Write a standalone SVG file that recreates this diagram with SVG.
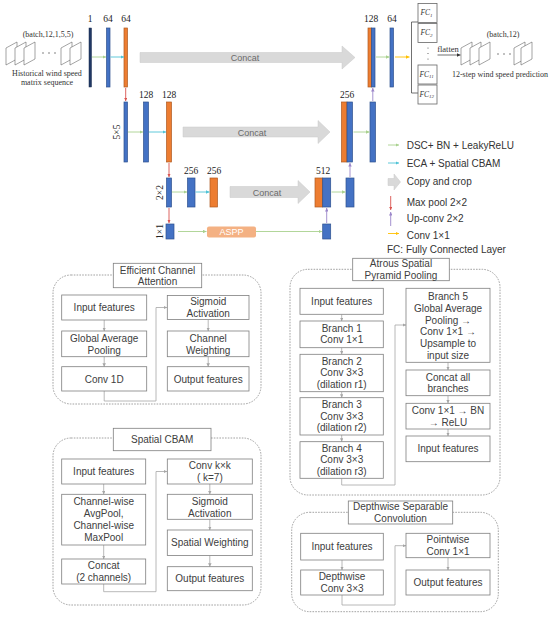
<svg xmlns="http://www.w3.org/2000/svg" width="550" height="621" viewBox="0 0 550 621">
<style>
.bg{fill:#ffffff}
.blue{fill:#4472C4;stroke:#2F528F;stroke-width:0.7}
.orange{fill:#ED7D31;stroke:#AE5A21;stroke-width:0.7}
.navy{fill:#203864;stroke:#1a2c50;stroke-width:0.5}
.num{font-family:"Liberation Serif",serif;font-size:9.5px;fill:#222;text-anchor:middle}
.ser{font-family:"Liberation Serif",serif;font-size:8px;fill:#333;text-anchor:middle}
.fc{font-family:"Liberation Serif",serif;font-style:italic;font-size:7.5px;fill:#333}
.frame{fill:#fff;stroke:#666;stroke-width:0.6}
.concat{fill:#D9D9D9;stroke:#c8c8c8;stroke-width:0.5}
.ctext{font-family:"Liberation Sans",Arial,sans-serif;font-size:9px;fill:#6a6a6a;text-anchor:middle}
.leg{font-family:"Liberation Sans",Arial,sans-serif;font-size:10px;fill:#333}
.g{stroke:#A9D18E;stroke-width:0.9;fill:none}
.c{stroke:#4FC3D6;stroke-width:0.9;fill:none}
.r{stroke:#D9534F;stroke-width:0.9;fill:none}
.p{stroke:#9B86C9;stroke-width:0.9;fill:none}
.y{stroke:#FFC000;stroke-width:0.9;fill:none}
.k{stroke:#333;stroke-width:0.7;fill:none}
.box{fill:#fff;stroke:#7f7f7f;stroke-width:0.8}
.dash{fill:none;stroke:#8a8a8a;stroke-width:0.8;stroke-dasharray:1.6 1.2}
.bt{font-family:"Liberation Sans",Arial,sans-serif;font-size:10px;fill:#404040;text-anchor:middle}
.pl{stroke:#a6a6a6;stroke-width:0.8;fill:none}
</style>
<defs>
<marker id="mg" viewBox="0 0 6 6" refX="6" refY="3" markerWidth="3.5" markerHeight="3.5" markerUnits="userSpaceOnUse" orient="auto"><path d="M0,0 L6,3 L0,6 z" fill="#A9D18E"/></marker>
<marker id="mc" viewBox="0 0 6 6" refX="6" refY="3" markerWidth="3.5" markerHeight="3.5" markerUnits="userSpaceOnUse" orient="auto"><path d="M0,0 L6,3 L0,6 z" fill="#4FC3D6"/></marker>
<marker id="mr" viewBox="0 0 6 6" refX="6" refY="3" markerWidth="3.5" markerHeight="3.5" markerUnits="userSpaceOnUse" orient="auto"><path d="M0,0 L6,3 L0,6 z" fill="#D9534F"/></marker>
<marker id="mp" viewBox="0 0 6 6" refX="6" refY="3" markerWidth="3.5" markerHeight="3.5" markerUnits="userSpaceOnUse" orient="auto"><path d="M0,0 L6,3 L0,6 z" fill="#9B86C9"/></marker>
<marker id="my" viewBox="0 0 6 6" refX="6" refY="3" markerWidth="3.5" markerHeight="3.5" markerUnits="userSpaceOnUse" orient="auto"><path d="M0,0 L6,3 L0,6 z" fill="#FFC000"/></marker>
<marker id="mk" viewBox="0 0 6 6" refX="6" refY="3" markerWidth="4" markerHeight="4" markerUnits="userSpaceOnUse" orient="auto"><path d="M0,0 L6,3 L0,6 z" fill="#333"/></marker>
<marker id="ma" viewBox="0 0 6 6" refX="6" refY="3" markerWidth="3.5" markerHeight="3.5" markerUnits="userSpaceOnUse" orient="auto"><path d="M0,0 L6,3 L0,6 z" fill="#a6a6a6"/></marker>
<polygon id="fr" points="0,6 11,0 11,17 0,23"/>
</defs>
<rect class="bg" x="0" y="0" width="550" height="621"/>

<!-- input stack -->
<g id="input-stack">
<text class="ser" x="48" y="37">(batch,12,1,5,5)</text>
<use href="#fr" class="frame" x="6" y="42"/>
<use href="#fr" class="frame" x="15" y="42"/>
<use href="#fr" class="frame" x="24" y="42"/>
<circle cx="43" cy="53" r="0.7" fill="#555"/><circle cx="49" cy="53" r="0.7" fill="#555"/><circle cx="55" cy="53" r="0.7" fill="#555"/>
<use href="#fr" class="frame" x="61" y="42"/>
<use href="#fr" class="frame" x="70" y="42"/>
<text class="ser" x="47" y="75.5">Historical wind speed</text>
<text class="ser" x="47" y="85">matrix sequence</text>
</g>

<!-- output stack -->
<g id="output-stack">
<text class="ser" x="503" y="37">(batch,12)</text>
<use href="#fr" class="frame" x="461" y="42"/>
<use href="#fr" class="frame" x="470" y="42"/>
<use href="#fr" class="frame" x="479" y="42"/>
<circle cx="498" cy="54" r="0.7" fill="#555"/><circle cx="504" cy="54" r="0.7" fill="#555"/><circle cx="510" cy="54" r="0.7" fill="#555"/>
<use href="#fr" class="frame" x="514" y="42"/>
<use href="#fr" class="frame" x="521" y="42"/>
<text class="ser" x="500" y="77">12-step wind speed prediction</text>
</g>

<!-- FC layer -->
<g id="fc-layer">
<path class="k" d="M418,22 H411.5 V93 H418"/>
<rect class="box" x="418" y="3.5" width="19" height="19" style="stroke:#666"/>
<text class="fc" x="420.5" y="15">FC<tspan font-size="5" dy="1.8">1</tspan></text>
<rect class="box" x="418" y="23.5" width="19" height="19" style="stroke:#666"/>
<text class="fc" x="420.5" y="35">FC<tspan font-size="5" dy="1.8">2</tspan></text>
<circle cx="428" cy="48" r="0.6" fill="#555"/><circle cx="428" cy="53.5" r="0.6" fill="#555"/><circle cx="428" cy="59" r="0.6" fill="#555"/>
<rect class="box" x="418" y="65" width="19" height="19" style="stroke:#666"/>
<text class="fc" x="419.5" y="76.5">FC<tspan font-size="5" dy="1.8">11</tspan></text>
<rect class="box" x="418" y="85" width="19" height="19" style="stroke:#666"/>
<text class="fc" x="419.5" y="96.5">FC<tspan font-size="5" dy="1.8">12</tspan></text>
<text class="ser" x="448" y="51.5" style="font-size:8.5px">flatten</text>
</g>

<!-- level 1 -->
<g id="l1-input"><rect class="navy" x="89" y="28" width="2.5" height="59"/><text class="num" x="90" y="22">1</text></g>
<g id="l1-conv"><rect class="blue" x="106.5" y="28" width="3.5" height="59"/><text class="num" x="108" y="22">64</text></g>
<g id="l1-att"><rect class="orange" x="124" y="28" width="3.5" height="59"/><text class="num" x="126" y="22">64</text></g>
<g id="l1-cat"><rect class="orange" x="368" y="28" width="3.5" height="59"/><rect class="blue" x="371.5" y="28" width="3.5" height="59"/><text class="num" x="371" y="22">128</text></g>
<g id="l1-out"><rect class="blue" x="390" y="28" width="3.5" height="59"/><text class="num" x="392" y="22">64</text></g>

<!-- level 2 -->
<g id="l2-pool"><rect class="blue" x="124" y="102" width="3.5" height="60"/><text class="num" transform="translate(117,132) rotate(-90)" dy="3">5×5</text></g>
<g id="l2-conv"><rect class="blue" x="143.5" y="102" width="5" height="60"/><text class="num" x="146" y="98">128</text></g>
<g id="l2-att"><rect class="orange" x="166.5" y="102" width="5" height="60"/><text class="num" x="169" y="98">128</text></g>
<g id="l2-cat"><rect class="orange" x="341.5" y="102" width="5.5" height="60"/><rect class="blue" x="347" y="102" width="5.5" height="60"/><text class="num" x="347" y="98">256</text></g>
<g id="l2-out"><rect class="blue" x="370" y="102" width="5.5" height="60"/></g>

<!-- level 3 -->
<g id="l3-pool"><rect class="blue" x="166.5" y="178" width="5" height="29"/><text class="num" transform="translate(160,192.5) rotate(-90)" dy="3">2×2</text></g>
<g id="l3-conv"><rect class="blue" x="187.5" y="178" width="7.5" height="29"/><text class="num" x="191" y="174">256</text></g>
<g id="l3-att"><rect class="orange" x="210" y="178" width="7.5" height="29"/><text class="num" x="214" y="174">256</text></g>
<g id="l3-cat"><rect class="orange" x="315" y="178" width="7.7" height="29"/><rect class="blue" x="322.7" y="178" width="8" height="29"/><text class="num" x="323" y="174">512</text></g>
<g id="l3-out"><rect class="blue" x="346" y="178" width="8" height="29"/></g>

<!-- level 4 -->
<g id="l4-pool"><rect class="blue" x="166" y="224" width="8" height="15"/><text class="num" transform="translate(160,231.5) rotate(-90)" dy="3">1×1</text></g>
<g id="aspp-block"><rect x="207" y="226.5" width="49" height="11" rx="2" fill="#F4B183"/><text x="231.5" y="235" text-anchor="middle" style="font-family:'Liberation Sans',Arial,sans-serif;font-size:9px;fill:#fff">ASPP</text></g>
<g id="l4-out"><rect class="blue" x="322.7" y="224" width="8" height="15"/></g>

<!-- concat block arrows -->
<g id="concat1"><path class="concat" d="M140,52.5 H342 V46 L355,57.5 L342,69 V62.5 H140 Z"/><text class="ctext" x="245" y="61">Concat</text></g>
<g id="concat2"><path class="concat" d="M183,127 H318 V120.5 L330,132 L318,143.5 V137 H183 Z"/><text class="ctext" x="252" y="135.5">Concat</text></g>
<g id="concat3"><path class="concat" d="M230,186.5 H298 V180.5 L310,192 L298,203.5 V197.5 H230 Z"/><text class="ctext" x="267" y="195.5">Concat</text></g>

<!-- connectors -->
<g id="connectors">
<line class="g" x1="92" y1="57" x2="106" y2="57" marker-end="url(#mg)"/>
<line class="c" x1="110.5" y1="57" x2="124" y2="57" marker-end="url(#mc)"/>
<line class="r" x1="125.7" y1="88" x2="125.7" y2="101" marker-end="url(#mr)"/>
<line class="g" x1="128" y1="132" x2="143" y2="132" marker-end="url(#mg)"/>
<line class="c" x1="149" y1="132" x2="166" y2="132" marker-end="url(#mc)"/>
<line class="r" x1="169" y1="163" x2="169" y2="177" marker-end="url(#mr)"/>
<line class="g" x1="172" y1="192" x2="187" y2="192" marker-end="url(#mg)"/>
<line class="c" x1="195.5" y1="192" x2="209.5" y2="192" marker-end="url(#mc)"/>
<line class="r" x1="169" y1="208" x2="169" y2="223" marker-end="url(#mr)"/>
<line class="g" x1="178" y1="231.5" x2="206.5" y2="231.5" marker-end="url(#mg)"/>
<line class="g" x1="256" y1="231.5" x2="322" y2="231.5" marker-end="url(#mg)"/>
<line class="p" x1="326.7" y1="223" x2="326.7" y2="208" marker-end="url(#mp)"/>
<line class="g" x1="331.5" y1="192" x2="345.5" y2="192" marker-end="url(#mg)"/>
<line class="p" x1="350" y1="177" x2="350" y2="163" marker-end="url(#mp)"/>
<line class="g" x1="353.5" y1="132" x2="369.5" y2="132" marker-end="url(#mg)"/>
<line class="p" x1="372.8" y1="101" x2="372.8" y2="88" marker-end="url(#mp)"/>
<line class="g" x1="376" y1="57" x2="389.5" y2="57" marker-end="url(#mg)"/>
<line class="y" x1="395" y1="57" x2="409.5" y2="57" marker-end="url(#my)"/>
<line class="k" x1="437.5" y1="55" x2="460.5" y2="55" marker-end="url(#mk)"/>

<!-- ECA panel -->
<line class="pl" x1="104.2" y1="320" x2="104.2" y2="331" marker-end="url(#ma)"/>
<line class="pl" x1="104.2" y1="356.7" x2="104.2" y2="366.7" marker-end="url(#ma)"/>
<path class="pl" d="M104.2,391 V401 H156 V307.5 H167" marker-end="url(#ma)"/>
<line class="pl" x1="208.2" y1="319.5" x2="208.2" y2="331" marker-end="url(#ma)"/>
<line class="pl" x1="208.2" y1="356.7" x2="208.2" y2="366.7" marker-end="url(#ma)"/>
<!-- CBAM panel -->
<line class="pl" x1="103.7" y1="484" x2="103.7" y2="494.3" marker-end="url(#ma)"/>
<line class="pl" x1="103.7" y1="545" x2="103.7" y2="559" marker-end="url(#ma)"/>
<path class="pl" d="M103.7,584 V591.7 H156 V471.5 H167" marker-end="url(#ma)"/>
<line class="pl" x1="209.8" y1="484" x2="209.8" y2="494.3" marker-end="url(#ma)"/>
<line class="pl" x1="209.8" y1="519.3" x2="209.8" y2="530" marker-end="url(#ma)"/>
<line class="pl" x1="209.8" y1="555.5" x2="209.8" y2="566.7" marker-end="url(#ma)"/>
<!-- ASPP panel -->
<line class="pl" x1="341.7" y1="314.3" x2="341.7" y2="321" marker-end="url(#ma)"/>
<line class="pl" x1="341.7" y1="347.7" x2="341.7" y2="354.3" marker-end="url(#ma)"/>
<line class="pl" x1="341.7" y1="391.7" x2="341.7" y2="397.7" marker-end="url(#ma)"/>
<line class="pl" x1="341.7" y1="435" x2="341.7" y2="441.7" marker-end="url(#ma)"/>
<path class="pl" d="M341.7,478.3 V485 H395 V325 H406" marker-end="url(#ma)"/>
<line class="pl" x1="448" y1="362.3" x2="448" y2="370" marker-end="url(#ma)"/>
<line class="pl" x1="448" y1="395.7" x2="448" y2="403.3" marker-end="url(#ma)"/>
<line class="pl" x1="448" y1="429" x2="448" y2="436" marker-end="url(#ma)"/>
<!-- DSC panel -->
<line class="pl" x1="342" y1="560" x2="342" y2="570" marker-end="url(#ma)"/>
<path class="pl" d="M342,595 V605 H395 V545.7 H406" marker-end="url(#ma)"/>
<line class="pl" x1="448" y1="557.7" x2="448" y2="570" marker-end="url(#ma)"/>
</g>

<!-- legend -->
<g id="legend">
<line class="g" x1="388" y1="145" x2="399" y2="145" marker-end="url(#mg)"/>
<text class="leg" x="406.7" y="148.5">DSC+ BN + LeakyReLU</text>
<line class="c" x1="388" y1="163" x2="399" y2="163" marker-end="url(#mc)"/>
<text class="leg" x="406.7" y="166.5">ECA + Spatial CBAM</text>
<path class="concat" d="M388,178.5 H394 V174 L400.5,182 L394,190 V185.5 H388 Z"/>
<text class="leg" x="406.7" y="184.5">Copy and crop</text>
<line class="r" x1="390.7" y1="196" x2="390.7" y2="210" marker-end="url(#mr)"/>
<text class="leg" x="406.7" y="205.5">Max pool 2×2</text>
<line class="p" x1="390.7" y1="226" x2="390.7" y2="212" marker-end="url(#mp)"/>
<text class="leg" x="406.7" y="222">Up-conv 2×2</text>
<line class="y" x1="388" y1="233.5" x2="399" y2="233.5" marker-end="url(#my)"/>
<text class="leg" x="406.7" y="238.5">Conv 1×1</text>
<text class="leg" x="387" y="253">FC: Fully Connected Layer</text>
</g>

<!-- ECA panel -->
<g id="eca-panel">
<rect class="dash" x="53" y="275" width="208" height="129" rx="18"/>
<rect class="box" x="113.3" y="263.3" width="88.4" height="24.4"/>
<text class="bt" x="157.5" y="273.5">Efficient Channel</text>
<text class="bt" x="157.5" y="284.7">Attention</text>
</g>
<g id="eca-input"><rect class="box" x="61.7" y="295" width="85" height="25"/><text class="bt" x="104.2" y="311">Input features</text></g>
<g id="eca-gap"><rect class="box" x="61.7" y="331" width="85" height="25.7"/><text class="bt" x="104.2" y="341.5">Global Average</text><text class="bt" x="104.2" y="353.5">Pooling</text></g>
<g id="eca-conv"><rect class="box" x="61.7" y="366.7" width="85" height="24.3"/><text class="bt" x="104.2" y="382.5">Conv 1D</text></g>
<g id="eca-sig"><rect class="box" x="167.3" y="295.5" width="81.7" height="24"/><text class="bt" x="208.2" y="305">Sigmoid</text><text class="bt" x="208.2" y="317">Activation</text></g>
<g id="eca-weight"><rect class="box" x="167.3" y="331" width="81.7" height="25.7"/><text class="bt" x="208.2" y="341.5">Channel</text><text class="bt" x="208.2" y="353.5">Weighting</text></g>
<g id="eca-out"><rect class="box" x="167.3" y="366.7" width="81.7" height="24.3"/><text class="bt" x="208.2" y="382.5">Output features</text></g>

<!-- Spatial CBAM panel -->
<g id="cbam-panel">
<rect class="dash" x="53" y="438" width="208" height="167" rx="18"/>
<rect class="box" x="113.3" y="428.3" width="97.7" height="22.4"/>
<text class="bt" x="162.2" y="443">Spatial CBAM</text>
</g>
<g id="cbam-input"><rect class="box" x="61.7" y="459" width="84" height="25"/><text class="bt" x="103.7" y="475">Input features</text></g>
<g id="cbam-pool"><rect class="box" x="61.7" y="494.3" width="84" height="50.7"/><text class="bt" x="103.7" y="505">Channel-wise</text><text class="bt" x="103.7" y="517">AvgPool,</text><text class="bt" x="103.7" y="529">Channel-wise</text><text class="bt" x="103.7" y="541">MaxPool</text></g>
<g id="cbam-concat"><rect class="box" x="61.7" y="559" width="84" height="25"/><text class="bt" x="103.7" y="569">Concat</text><text class="bt" x="103.7" y="581">(2 channels)</text></g>
<g id="cbam-conv"><rect class="box" x="167.3" y="459" width="85" height="25"/><text class="bt" x="209.8" y="469">Conv k×k</text><text class="bt" x="209.8" y="481">( k=7)</text></g>
<g id="cbam-sig"><rect class="box" x="167.3" y="494.3" width="85" height="25"/><text class="bt" x="209.8" y="504.5">Sigmoid</text><text class="bt" x="209.8" y="516.5">Activation</text></g>
<g id="cbam-weight"><rect class="box" x="167.3" y="530" width="85" height="25.5"/><text class="bt" x="209.8" y="546">Spatial Weighting</text></g>
<g id="cbam-out"><rect class="box" x="167.3" y="566.7" width="85" height="24"/><text class="bt" x="209.8" y="582">Output features</text></g>

<!-- ASPP panel -->
<g id="aspp-panel">
<rect class="dash" x="290" y="269.3" width="210" height="225.7" rx="18"/>
<rect class="box" x="352.7" y="258.3" width="96.6" height="22.4"/>
<text class="bt" x="401" y="267">Atrous Spatial</text>
<text class="bt" x="401" y="278.5">Pyramid Pooling</text>
</g>
<g id="aspp-input"><rect class="box" x="300" y="288.3" width="83.3" height="26"/><text class="bt" x="341.7" y="304.7">Input features</text></g>
<g id="aspp-b1"><rect class="box" x="300" y="321" width="83.3" height="26.7"/><text class="bt" x="341.7" y="331.5">Branch 1</text><text class="bt" x="341.7" y="343.2">Conv 1×1</text></g>
<g id="aspp-b2"><rect class="box" x="300" y="354.3" width="83.3" height="37.4"/><text class="bt" x="341.7" y="364.5">Branch 2</text><text class="bt" x="341.7" y="376.2">Conv 3×3</text><text class="bt" x="341.7" y="387.9">(dilation r1)</text></g>
<g id="aspp-b3"><rect class="box" x="300" y="397.7" width="83.3" height="37.3"/><text class="bt" x="341.7" y="407.8">Branch 3</text><text class="bt" x="341.7" y="419.5">Conv 3×3</text><text class="bt" x="341.7" y="431.2">(dilation r2)</text></g>
<g id="aspp-b4"><rect class="box" x="300" y="441.7" width="83.3" height="36.6"/><text class="bt" x="341.7" y="451.5">Branch 4</text><text class="bt" x="341.7" y="463.2">Conv 3×3</text><text class="bt" x="341.7" y="474.9">(dilation r3)</text></g>
<g id="aspp-b5"><rect class="box" x="406" y="288.3" width="84" height="74"/><text class="bt" x="448" y="300.2">Branch 5</text><text class="bt" x="448" y="311.9">Global Average</text><text class="bt" x="448" y="323.6">Pooling →</text><text class="bt" x="448" y="335.3">Conv 1×1 →</text><text class="bt" x="448" y="347">Upsample to</text><text class="bt" x="448" y="358.7">input size</text></g>
<g id="aspp-concat"><rect class="box" x="406" y="370" width="84" height="25.7"/><text class="bt" x="448" y="380.5">Concat all</text><text class="bt" x="448" y="392.2">branches</text></g>
<g id="aspp-conv"><rect class="box" x="406" y="403.3" width="84" height="25.7"/><text class="bt" x="448" y="413.8">Conv 1×1 → BN</text><text class="bt" x="448" y="425.5">→ ReLU</text></g>
<g id="aspp-out"><rect class="box" x="406" y="436" width="84" height="25.7"/><text class="bt" x="448" y="452.3">Input features</text></g>

<!-- DSC panel -->
<g id="dsc-panel">
<rect class="dash" x="291.7" y="512.3" width="206.6" height="99.4" rx="18"/>
<rect class="box" x="348.3" y="501" width="104.4" height="23"/>
<text class="bt" x="400.5" y="509.5">Depthwise Separable</text>
<text class="bt" x="400.5" y="521.5">Convolution</text>
</g>
<g id="dsc-input"><rect class="box" x="300.7" y="533.3" width="82.6" height="26.7"/><text class="bt" x="342" y="550">Input features</text></g>
<g id="dsc-depth"><rect class="box" x="300.7" y="570" width="82.6" height="25"/><text class="bt" x="342" y="580">Depthwise</text><text class="bt" x="342" y="592">Conv 3×3</text></g>
<g id="dsc-point"><rect class="box" x="406" y="533.3" width="84" height="24.4"/><text class="bt" x="448" y="543">Pointwise</text><text class="bt" x="448" y="555">Conv 1×1</text></g>
<g id="dsc-out"><rect class="box" x="406" y="570" width="84" height="25"/><text class="bt" x="448" y="586">Output features</text></g>
</svg>
